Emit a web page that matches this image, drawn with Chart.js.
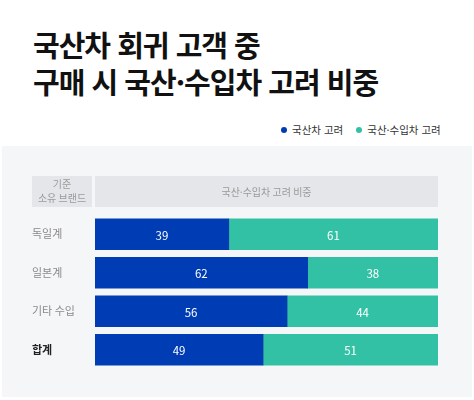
<!DOCTYPE html>
<html lang="ko">
<head>
<meta charset="utf-8">
<script src="https://cdn.jsdelivr.net/npm/chart.js@4.4.1/dist/chart.umd.min.js"></script>
<style>
    body { margin: 0; width: 474px; height: 400px; background: #fff; position: relative; overflow: hidden;
           font-family: "Noto Sans CJK KR", "Noto Sans", sans-serif; }
    .title { position: absolute; left: 33px; top: 25.5px; font-size: 29px; font-weight: 700; line-height: 37.5px;
             color: #111; letter-spacing: -1px; margin: 0; }
    .legend { position: absolute; top: 122px; left: 281px; font-size: 10.5px; color: #333; white-space: nowrap; }
    .legend span.dot { display: inline-block; width: 6px; height: 6px; border-radius: 50%; margin-right: 5px;
                       vertical-align: 1px; }
    .legend span.item { margin-right: 13px; }
    #chart { position: absolute; left: 2px; top: 146px; background: #f5f6f8; }
</style>
</head>
<body>
<div class="title">국산차 회귀 고객 중<br>구매 시 국산·수입차 고려 비중</div>
<div class="legend" id="legend"></div>
<canvas id="chart" width="470" height="251"></canvas>
<script>
// Data
const brands = ['독일계', '일본계', '기타 수입', '합계'];
const domesticOnly = [39, 62, 56, 49];
const domesticAndImport = [61, 38, 44, 51];
const seriesNames = ['국산차 고려', '국산·수입차 고려'];
const headerLeft = ['기준', '소유 브랜드'];
const headerRight = '국산·수입차 고려 비중';

const colors = ['#003cb4', '#33c1a5'];
const fontFamily = '"Noto Sans CJK KR", "Noto Sans", sans-serif';

// Legend
const legendEl = document.getElementById('legend');
seriesNames.forEach((name, i) => {
    const item = document.createElement('span');
    item.className = 'item';
    item.innerHTML = `<span class="dot" style="background:${colors[i]}"></span>${name}`;
    legendEl.appendChild(item);
});

// Gray header row above the bars
const headerPlugin = {
    id: 'header',
    beforeDraw(chart) {
        const ctx = chart.ctx;
        const area = chart.chartArea;
        const yScale = chart.scales.y;
        const top = 30, h = 31;
        ctx.save();
        ctx.fillStyle = '#e5e6e9';
        ctx.fillRect(yScale.left, top, yScale.right - yScale.left - 3, h);
        ctx.fillRect(area.left, top, area.right - area.left, h);
        ctx.fillStyle = '#9a9a9a';
        ctx.font = '10px ' + fontFamily;
        ctx.textAlign = 'center';
        ctx.textBaseline = 'middle';
        const lx = (yScale.left + yScale.right - 3) / 2;
        ctx.fillText(headerLeft[0], lx, top + 8.5);
        ctx.fillText(headerLeft[1], lx, top + 22);
        ctx.fillText(headerRight, (area.left + area.right) / 2, top + h / 2 + 0.5);
        ctx.restore();
    }
};

// Values inside segments
const valueLabels = {
    id: 'valueLabels',
    afterDatasetsDraw(chart) {
        const ctx = chart.ctx;
        ctx.save();
        ctx.fillStyle = '#fff';
        ctx.font = '11.5px ' + fontFamily;
        ctx.textAlign = 'center';
        ctx.textBaseline = 'middle';
        chart.data.datasets.forEach((ds, i) => {
            chart.getDatasetMeta(i).data.forEach((bar, j) => {
                const x = (bar.x + bar.base) / 2;
                ctx.fillText(ds.data[j], x, bar.y + 1);
            });
        });
        ctx.restore();
    }
};

new Chart(document.getElementById('chart'), {
    type: 'bar',
    data: {
        labels: brands,
        datasets: [
            { label: seriesNames[0], data: domesticOnly, backgroundColor: colors[0] },
            { label: seriesNames[1], data: domesticAndImport, backgroundColor: colors[1] }
        ]
    },
    options: {
        indexAxis: 'y',
        responsive: false,
        animation: false,
        layout: { padding: { left: 30, right: 34, top: 69, bottom: 28 } },
        datasets: { bar: { barThickness: 31, borderWidth: 0 } },
        plugins: {
            legend: { display: false },
            tooltip: { enabled: false }
        },
        scales: {
            x: { stacked: true, min: 0, max: 100, display: false },
            y: {
                stacked: true,
                grid: { display: false },
                border: { display: false },
                afterFit(scale) { scale.width = 63; },
                ticks: {
                    crossAlign: 'far',
                    padding: 0,
                    color: ctx => ctx.index === 3 ? '#222' : '#8a8a8a',
                    font: ctx => ({
                        family: fontFamily,
                        size: 11,
                        weight: ctx.index === 3 ? 'bold' : 'normal'
                    })
                }
            }
        }
    },
    plugins: [headerPlugin, valueLabels]
});
</script>
</body>
</html>
